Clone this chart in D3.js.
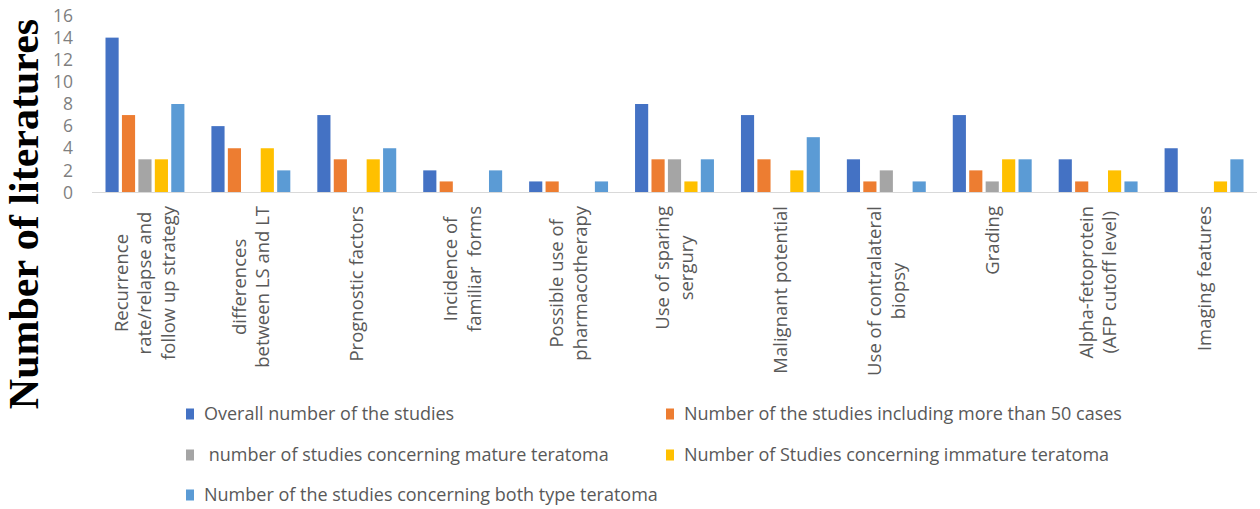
<!DOCTYPE html>
<html>
<head>
<meta charset="utf-8">
<script src="https://cdn.jsdelivr.net/npm/d3@7"></script>
<style>
  body { margin: 0; background: #fff; }
  svg { display: block; }
  text { font-family: 'Open Sans', 'Noto Sans', sans-serif; }
</style>
</head>
<body>
<svg id="chart" width="1260" height="509"></svg>
<script>
// categories (each label already split into its lines)
const categories = [
  ['Recurrence', 'rate/relapse and', 'follow up strategy'],
  ['differences', 'between LS and LT'],
  ['Prognostic factors'],
  ['Incidence of', 'familiar  forms'],
  ['Possible use of', 'pharmacotherapy'],
  ['Use of sparing', 'sergury'],
  ['Malignant potential'],
  ['Use of contralateral', 'biopsy'],
  ['Grading'],
  ['Alpha-fetoprotein', '(AFP cutoff level)'],
  ['Imaging features'],
]

const seriesNames = [
  'Overall number of the studies',
  'Number of the studies including more than 50 cases',
  ' number of studies concerning mature teratoma',
  'Number of Studies concerning immature teratoma',
  'Number of the studies concerning both type teratoma',
]

const overall = [14, 6, 7, 2, 1, 8, 7, 3, 7, 3, 4]
const over50 = [7, 4, 3, 1, 1, 3, 3, 1, 2, 1, 0]
const mature = [3, 0, 0, 0, 0, 3, 0, 2, 1, 0, 0]
const immature = [3, 4, 3, 0, 0, 1, 2, 0, 3, 2, 1]
const bothTypes = [8, 2, 4, 2, 1, 3, 5, 1, 3, 1, 3]

const yTicks = [0, 2, 4, 6, 8, 10, 12, 14, 16]

const colors = ['#4472C4', '#ED7D31', '#A5A5A5', '#FFC000', '#5B9BD5']

const seriesValues = [overall, over50, mature, immature, bothTypes]
const data = categories.map((c, i) => ({
  key: c.join(' '),
  lines: c,
  values: seriesValues.map((s) => s[i]),
}))

const svg = d3.select('#chart')

const x0 = d3.scaleBand()
  .domain(data.map((d) => d.key))
  .range([92, 1257])
  .padding(0)

const x1 = d3.scaleBand()
  .domain(d3.range(seriesNames.length))
  .range([13.5, x0.bandwidth() - 13.5])
  .paddingInner(0.2)

const y = d3.scaleLinear().domain([0, 16]).range([192.5, 15.5])

// y tick labels (no axis line)
svg.append('g')
  .selectAll('text')
  .data(yTicks)
  .join('text')
  .attr('x', 73)
  .attr('y', (d) => y(d))
  .attr('dy', '0.35em')
  .attr('text-anchor', 'end')
  .attr('font-size', 17.5)
  .attr('fill', '#7f7f7f')
  .text((d) => d)

// y title
svg.append('text')
  .attr('transform', 'translate(38,214) rotate(-90)')
  .attr('text-anchor', 'middle')
  .style('font-family', "'Liberation Serif', 'DejaVu Serif', serif")
  .attr('font-weight', 'bold')
  .attr('font-size', 42)
  .attr('fill', '#000')
  .text('Number of literatures')

// bars
const groups = svg.append('g')
  .selectAll('g')
  .data(data)
  .join('g')
  .attr('transform', (d) => `translate(${x0(d.key)},0)`)

groups.selectAll('rect')
  .data((d) => d.values.map((v, i) => ({ i, v })))
  .join('rect')
  .attr('x', (d) => x1(d.i))
  .attr('width', x1.bandwidth())
  .attr('y', (d) => y(d.v))
  .attr('height', (d) => y(0) - y(d.v))
  .attr('fill', (d) => colors[d.i])

// category axis line
svg.append('line')
  .attr('x1', x0.range()[0])
  .attr('x2', x0.range()[1])
  .attr('y1', y(0))
  .attr('y2', y(0))
  .attr('stroke', '#d9d9d9')
  .attr('stroke-width', 1)

// rotated category labels, lines centred on each other, block top at 207
const lineH = 23.5
const labels = svg.append('g')
  .selectAll('g')
  .data(data)
  .join('g')

labels.each(function (d) {
  const g = d3.select(this)
  const t = g.append('text')
    .attr('text-anchor', 'middle')
    .attr('font-size', 18.5)
    .attr('fill', '#595959')
  const n = d.lines.length
  t.selectAll('tspan')
    .data(d.lines)
    .join('tspan')
    .attr('x', 0)
    .attr('y', (l, i) => (i - (n - 1) / 2) * lineH)
    .attr('dy', '0.35em')
    .style('white-space', 'pre')
    .text((l) => l)
  const maxW = d3.max(t.selectAll('tspan').nodes(), (nd) => nd.getComputedTextLength())
  const cx = x0(d.key) + x0.bandwidth() / 2
  g.attr('transform', `translate(${cx},${206 + maxW / 2}) rotate(-90)`)
})

// legend
const legendPos = [
  [186, 414], [666, 414],
  [186, 455], [666, 455],
  [186, 495],
]
const legend = svg.append('g')
  .selectAll('g')
  .data(seriesNames)
  .join('g')
  .attr('transform', (d, i) => `translate(${legendPos[i][0]},${legendPos[i][1]})`)

legend.append('rect')
  .attr('x', 0)
  .attr('y', -5.5)
  .attr('width', 8)
  .attr('height', 11)
  .attr('fill', (d, i) => colors[i])

legend.append('text')
  .attr('x', 18)
  .attr('dy', '0.35em')
  .attr('font-size', 18)
  .attr('fill', '#595959')
  .style('white-space', 'pre')
  .text((d) => d)
</script>
</body>
</html>
